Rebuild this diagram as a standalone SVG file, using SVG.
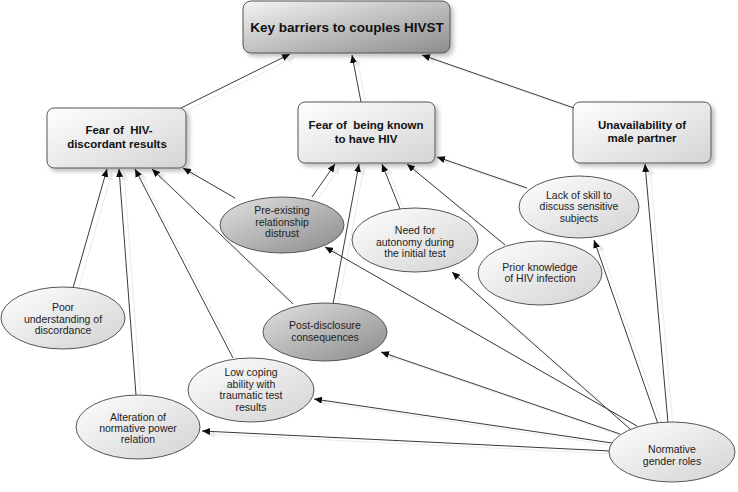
<svg xmlns="http://www.w3.org/2000/svg" width="738" height="492" viewBox="0 0 738 492">
<defs>
<linearGradient id="gTop" x1="0" y1="0" x2="1" y2="1">
<stop offset="0" stop-color="#f4f4f4"/><stop offset="1" stop-color="#8c8c8c"/>
</linearGradient>
<linearGradient id="gBox" x1="0" y1="0" x2="1" y2="1">
<stop offset="0" stop-color="#ffffff"/><stop offset="1" stop-color="#d4d4d4"/>
</linearGradient>
<linearGradient id="gEl" x1="0" y1="0" x2="1" y2="1">
<stop offset="0" stop-color="#ffffff"/><stop offset="1" stop-color="#d2d2d2"/>
</linearGradient>
<linearGradient id="gDark" x1="0" y1="0" x2="1" y2="1">
<stop offset="0" stop-color="#e2e2e2"/><stop offset="1" stop-color="#8a8a8a"/>
</linearGradient>
<filter id="shadow" x="-10%" y="-10%" width="130%" height="140%">
<feOffset in="SourceAlpha" dx="3" dy="3" result="o"/>
<feGaussianBlur in="o" stdDeviation="2" result="b"/>
<feFlood flood-color="#000" flood-opacity="0.25"/>
<feComposite in2="b" operator="in" result="s"/>
<feMerge><feMergeNode in="s"/><feMergeNode in="SourceGraphic"/></feMerge>
</filter>
<filter id="lshadow" x="-5%" y="-5%" width="115%" height="115%">
<feOffset in="SourceAlpha" dx="5" dy="3" result="o"/>
<feFlood flood-color="#000" flood-opacity="0.08"/>
<feComposite in2="o" operator="in" result="s"/>
<feMerge><feMergeNode in="s"/><feMergeNode in="SourceGraphic"/></feMerge>
</filter>
<marker id="arr" markerWidth="9" markerHeight="7" refX="8" refY="3.5" orient="auto" markerUnits="userSpaceOnUse">
<path d="M0,0 L8,3.5 L0,7 Z" fill="#111"/>
</marker>
</defs>
<style>
.c line{stroke:#3a3a3a;stroke-width:1;marker-end:url(#arr)}
.box{stroke:#555;stroke-width:1;filter:url(#shadow)}
.el{stroke:#555;stroke-width:1}
.bt{font-family:"Liberation Sans",Arial,sans-serif;font-weight:bold;fill:#111;text-anchor:middle}
.et{font-family:"Liberation Sans",Arial,sans-serif;font-size:10.5px;fill:#222;text-anchor:middle}
</style>
<rect width="738" height="492" fill="#fff"/>
<g id="connectors" class="c" filter="url(#lshadow)">
<line x1="181" y1="108" x2="290" y2="54"/>
<line x1="361" y1="102" x2="352" y2="55"/>
<line x1="574" y1="108" x2="422" y2="55"/>
<line x1="73" y1="288" x2="107" y2="169"/>
<line x1="136" y1="395" x2="119" y2="169"/>
<line x1="233" y1="358" x2="135" y2="169"/>
<line x1="293" y1="304" x2="152" y2="169"/>
<line x1="235" y1="198" x2="183" y2="168"/>
<line x1="312" y1="197" x2="335" y2="164"/>
<line x1="333" y1="304" x2="359" y2="164"/>
<line x1="400" y1="209" x2="382" y2="164"/>
<line x1="505" y1="245" x2="407" y2="164"/>
<line x1="527" y1="188" x2="437" y2="157"/>
<line x1="668" y1="423" x2="645" y2="164"/>
<line x1="658" y1="424" x2="594" y2="240"/>
<line x1="630" y1="429" x2="452" y2="272"/>
<line x1="637" y1="426" x2="325" y2="247"/>
<line x1="620" y1="434" x2="381" y2="352"/>
<line x1="612" y1="443" x2="314" y2="399"/>
<line x1="610" y1="451" x2="202" y2="431"/>
</g>
<g id="key-barriers">
<rect class="box" x="243" y="1" width="207" height="52" rx="8" fill="url(#gTop)"/>
<text class="bt" x="347" y="32" font-size="13.5">Key barriers to couples HIVST</text>
</g>
<g id="fear-discordant">
<rect class="box" x="47" y="108" width="139" height="60" rx="7" fill="url(#gBox)"/>
<text class="bt" font-size="11.5"><tspan x="119" y="134">Fear of&#160; HIV-</tspan><tspan x="117" y="148">discordant results</tspan></text>
</g>
<g id="fear-known">
<rect class="box" x="298" y="102" width="137" height="61" rx="7" fill="url(#gBox)"/>
<text class="bt" font-size="11.5"><tspan x="366" y="129">Fear of&#160; being known</tspan><tspan x="366" y="143">to have HIV</tspan></text>
</g>
<g id="unavailability">
<rect class="box" x="573" y="102" width="138" height="61" rx="7" fill="url(#gBox)"/>
<text class="bt" font-size="11.5"><tspan x="642" y="129">Unavailability of</tspan><tspan x="642" y="142">male partner</tspan></text>
</g>
<g id="pre-existing">
<ellipse class="el" cx="282" cy="225" rx="62" ry="28" fill="url(#gDark)"/>
<text class="et"><tspan x="282" y="214">Pre-existing</tspan><tspan x="282" y="226">relationship</tspan><tspan x="282" y="237">distrust</tspan></text>
</g>
<g id="poor-understanding">
<ellipse class="el" cx="63" cy="318" rx="62" ry="31" fill="url(#gEl)"/>
<text class="et"><tspan x="63" y="311">Poor</tspan><tspan x="63" y="323">understanding of</tspan><tspan x="63" y="334">discordance</tspan></text>
</g>
<g id="post-disclosure">
<ellipse class="el" cx="325" cy="332" rx="62" ry="29" fill="url(#gDark)"/>
<text class="et"><tspan x="325" y="329">Post-disclosure</tspan><tspan x="325" y="341">consequences</tspan></text>
</g>
<g id="need-autonomy">
<ellipse class="el" cx="415" cy="240" rx="63" ry="32" fill="url(#gEl)"/>
<text class="et"><tspan x="415" y="234">Need for</tspan><tspan x="415" y="246">autonomy during</tspan><tspan x="415" y="257">the initial test</tspan></text>
</g>
<g id="lack-skill">
<ellipse class="el" cx="579" cy="207" rx="60" ry="31" fill="url(#gEl)"/>
<text class="et"><tspan x="579" y="199">Lack of skill to</tspan><tspan x="579" y="210">discuss sensitive</tspan><tspan x="579" y="222">subjects</tspan></text>
</g>
<g id="prior-knowledge">
<ellipse class="el" cx="540" cy="273" rx="62" ry="32" fill="url(#gEl)"/>
<text class="et"><tspan x="540" y="271">Prior knowledge</tspan><tspan x="540" y="282">of HIV infection</tspan></text>
</g>
<g id="low-coping">
<ellipse class="el" cx="251" cy="390" rx="63" ry="32" fill="url(#gEl)"/>
<text class="et"><tspan x="251" y="376">Low coping</tspan><tspan x="251" y="388">ability with</tspan><tspan x="251" y="399">traumatic test</tspan><tspan x="251" y="411">results</tspan></text>
</g>
<g id="alteration">
<ellipse class="el" cx="138" cy="427" rx="62" ry="32" fill="url(#gEl)"/>
<text class="et"><tspan x="138" y="421">Alteration of</tspan><tspan x="138" y="432">normative power</tspan><tspan x="138" y="443">relation</tspan></text>
</g>
<g id="normative-gender">
<ellipse class="el" cx="672" cy="452" rx="63" ry="30" fill="url(#gEl)"/>
<text class="et"><tspan x="672" y="453">Normative</tspan><tspan x="672" y="465">gender roles</tspan></text>
</g>
</svg>
